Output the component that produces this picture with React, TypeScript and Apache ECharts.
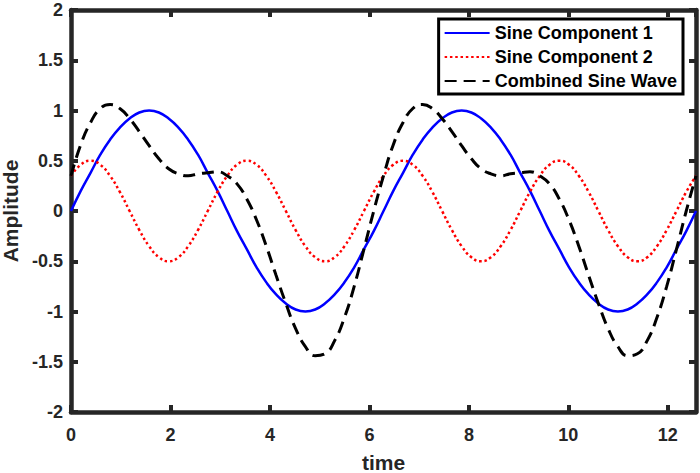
import React, { useEffect, useRef } from "react";
import * as echarts from "echarts";

// time samples (k * pi/16, k = 0..64)
const times = [
  0, 0.196, 0.393, 0.589, 0.785, 0.982, 1.178, 1.374, 1.571, 1.767, 1.963, 2.16, 2.356, 2.553, 2.749, 2.945,
  3.142, 3.338, 3.534, 3.731, 3.927, 4.123, 4.32, 4.516, 4.712, 4.909, 5.105, 5.301, 5.498, 5.694, 5.89, 6.087,
  6.283, 6.48, 6.676, 6.872, 7.069, 7.265, 7.461, 7.658, 7.854, 8.05, 8.247, 8.443, 8.639, 8.836, 9.032, 9.228,
  9.425, 9.621, 9.817, 10.014, 10.21, 10.407, 10.603, 10.799, 10.996, 11.192, 11.388, 11.585, 11.781, 11.977,
  12.174, 12.37, 12.566,
];

const sine1 = [
  0, 0.2, 0.38, 0.56, 0.71, 0.83, 0.92, 0.98, 1, 0.98, 0.92, 0.83, 0.71, 0.56, 0.38, 0.2,
  0, -0.2, -0.38, -0.56, -0.71, -0.83, -0.92, -0.98, -1, -0.98, -0.92, -0.83, -0.71, -0.56, -0.38, -0.2,
  0, 0.2, 0.38, 0.56, 0.71, 0.83, 0.92, 0.98, 1, 0.98, 0.92, 0.83, 0.71, 0.56, 0.38, 0.2,
  0, -0.2, -0.38, -0.56, -0.71, -0.83, -0.92, -0.98, -1, -0.98, -0.92, -0.83, -0.71, -0.56, -0.38, -0.2,
  0,
];

const sine2 = [
  0.35, 0.46, 0.5, 0.46, 0.35, 0.19, 0, -0.19, -0.35, -0.46, -0.5, -0.46, -0.35, -0.19, 0, 0.19,
  0.35, 0.46, 0.5, 0.46, 0.35, 0.19, 0, -0.19, -0.35, -0.46, -0.5, -0.46, -0.35, -0.19, 0, 0.19,
  0.35, 0.46, 0.5, 0.46, 0.35, 0.19, 0, -0.19, -0.35, -0.46, -0.5, -0.46, -0.35, -0.19, 0, 0.19,
  0.35, 0.46, 0.5, 0.46, 0.35, 0.19, 0, -0.19, -0.35, -0.46, -0.5, -0.46, -0.35, -0.19, 0, 0.19,
  0.35,
];

const combined = [
  0.35, 0.66, 0.88, 1.02, 1.06, 1.02, 0.92, 0.79, 0.65, 0.52, 0.42, 0.37, 0.35, 0.37, 0.38, 0.39,
  0.35, 0.27, 0.12, -0.09, -0.35, -0.64, -0.92, -1.17, -1.35, -1.44, -1.42, -1.29, -1.06, -0.75, -0.38, 0,
  0.35, 0.66, 0.88, 1.02, 1.06, 1.02, 0.92, 0.79, 0.65, 0.52, 0.42, 0.37, 0.35, 0.37, 0.38, 0.39,
  0.35, 0.27, 0.12, -0.09, -0.35, -0.64, -0.92, -1.17, -1.35, -1.44, -1.42, -1.29, -1.06, -0.75, -0.38, 0,
  0.35,
];

const seriesNames = ["Sine Component 1", "Sine Component 2", "Combined Sine Wave"];
const xTitle = "time";
const yTitle = "Amplitude";
const xMin = 0;
const xMax = 12.566;
const yMin = -2;
const yMax = 2;

const FONT = "'Liberation Sans', Arial, sans-serif";
const AX = "#262626";

export default function App() {
  const ref = useRef<HTMLDivElement>(null);
  useEffect(() => {
    if (!ref.current) return;
    const chart = echarts.init(ref.current, undefined, { renderer: "svg" });
    const pair = (ys: number[]) => times.map((t, i) => [t, ys[i]]);
    const baseAxisLine = { show: true, onZero: false, lineStyle: { color: AX, width: 4.5 } };
    const baseTick = { show: true, inside: true, length: 7, lineStyle: { color: AX, width: 4 } };
    chart.setOption({
      animation: false,
      grid: { left: 71, right: 4, top: 10, bottom: 61, containLabel: false, outerBoundsMode: "none" },
      legend: {
        data: seriesNames,
        orient: "vertical",
        right: 17,
        top: 19,
        backgroundColor: "#fff",
        borderColor: "#000",
        borderWidth: 3,
        borderRadius: 0,
        padding: [5, 6, 4, 5],
        itemGap: 6,
        itemWidth: 45,
        itemHeight: 14,
        itemStyle: { color: "rgba(0,0,0,0)", borderColor: "rgba(0,0,0,0)", borderWidth: 0 },
        textStyle: { fontFamily: FONT, fontWeight: "bold", fontSize: 18, color: "#000" },
      },
      xAxis: [
        {
          type: "value",
          min: xMin,
          max: xMax,
          interval: 2,
          name: xTitle,
          nameLocation: "middle",
          nameGap: 40,
          nameTextStyle: { fontFamily: FONT, fontWeight: "bold", fontSize: 21, color: AX },
          axisLine: baseAxisLine,
          axisTick: baseTick,
          splitLine: { show: false },
          axisLabel: {
            fontFamily: FONT,
            fontWeight: "bold",
            fontSize: 18,
            color: AX,
            margin: 14,
            showMaxLabel: false,
          },
        },
        {
          type: "value",
          position: "top",
          min: xMin,
          max: xMax,
          interval: 2,
          axisLine: baseAxisLine,
          axisTick: baseTick,
          axisLabel: { show: false },
          splitLine: { show: false },
        },
      ],
      yAxis: [
        {
          type: "value",
          min: yMin,
          max: yMax,
          interval: 0.5,
          name: yTitle,
          nameLocation: "middle",
          nameGap: 49,
          nameTextStyle: { fontFamily: FONT, fontWeight: "bold", fontSize: 21, color: AX },
          axisLine: baseAxisLine,
          axisTick: baseTick,
          splitLine: { show: false },
          axisLabel: { fontFamily: FONT, fontWeight: "bold", fontSize: 18, color: AX, margin: 8 },
        },
        {
          type: "value",
          position: "right",
          min: yMin,
          max: yMax,
          interval: 0.5,
          axisLine: baseAxisLine,
          axisTick: baseTick,
          axisLabel: { show: false },
          splitLine: { show: false },
        },
      ],
      series: [
        {
          name: seriesNames[0],
          type: "line",
          data: pair(sine1),
          smooth: true,
          showSymbol: false,
          symbol: "none",
          lineStyle: { color: "#0000ff", width: 2.5 },
          itemStyle: { color: "#0000ff" },
          z: 3,
        },
        {
          name: seriesNames[1],
          type: "line",
          data: pair(sine2),
          smooth: true,
          showSymbol: false,
          symbol: "none",
          lineStyle: { color: "#ff0000", width: 2.5, type: [2.5, 2.8] },
          itemStyle: { color: "#ff0000" },
          z: 3,
        },
        {
          name: seriesNames[2],
          type: "line",
          data: pair(combined),
          smooth: true,
          showSymbol: false,
          symbol: "none",
          lineStyle: { color: "#000000", width: 3, type: [12, 7] },
          itemStyle: { color: "#000000" },
          z: 3,
        },
      ],
    });
    return () => chart.dispose();
  }, []);
  return (
    <div
      ref={ref}
      style={{ position: "absolute", left: 0, top: 0, width: 700, height: 473, background: "#fff" }}
    />
  );
}
